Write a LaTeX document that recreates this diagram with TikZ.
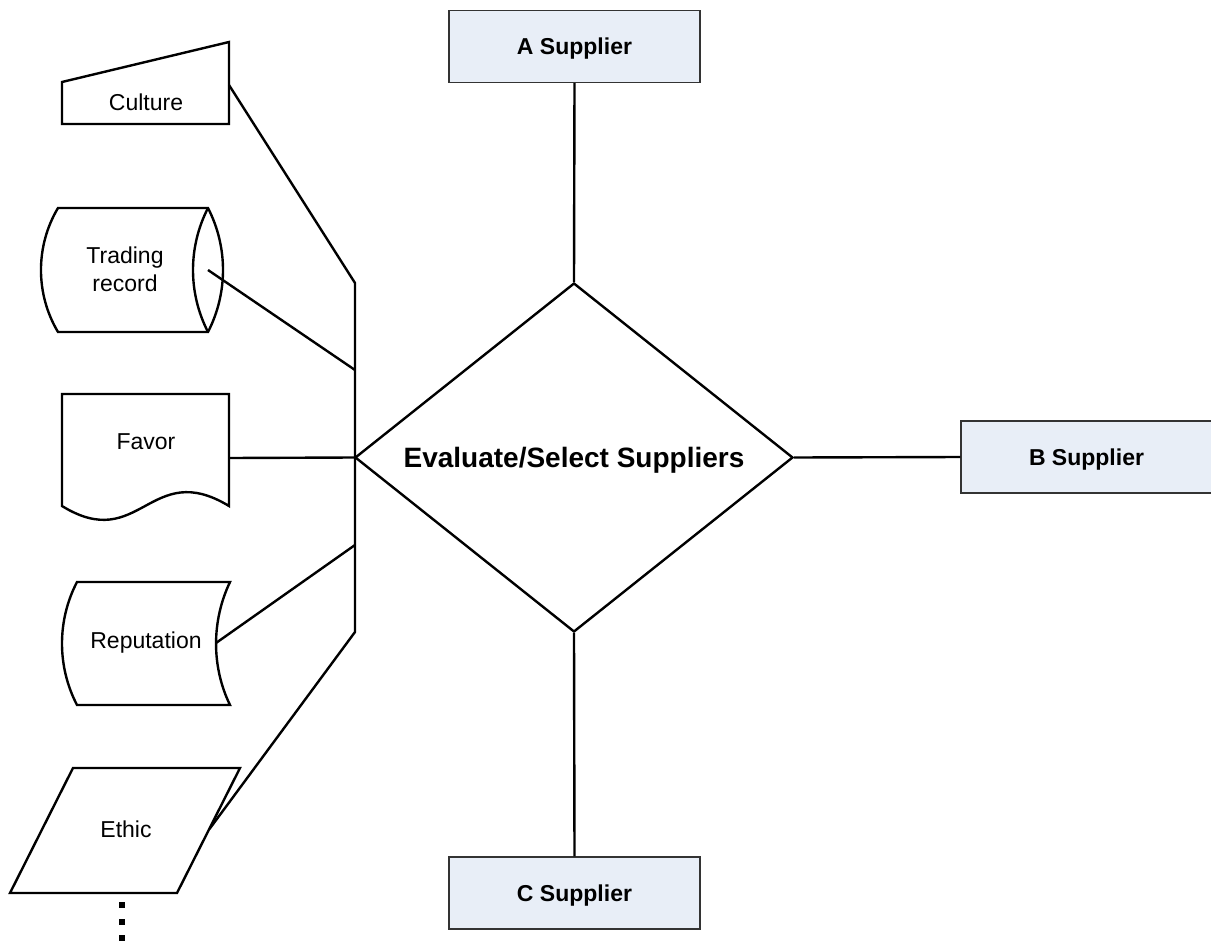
\documentclass[tikz,border=0pt]{standalone}
\usepackage{fontspec}
\setmainfont{Liberation Sans}
\usetikzlibrary{shapes.geometric}
\definecolor{supplierfill}{RGB}{232,238,247}
\begin{document}
\begin{tikzpicture}[x=1pt,y=-1pt,
  outline/.style={draw=black,line width=2.4pt,line join=miter},
  link/.style={draw=black,line width=2.4pt,line join=miter},
  label/.style={font=\fontsize{23}{28}\selectfont,align=center,inner sep=0pt},
  supplier/.style={draw=black!80,line width=1.3pt,fill=supplierfill,
    minimum width=251pt,minimum height=72pt,inner sep=0pt,text depth=0pt,
    font=\fontsize{23}{28}\selectfont\bfseries},
  dot/.style={fill=black,draw=none}
]
\useasboundingbox (0,0) rectangle (1211,945);

% central decision
\node[diamond,aspect=1.255,draw=black,line width=2.4pt,minimum width=438pt,minimum height=349pt,
  inner sep=0pt,text depth=0pt,font=\fontsize{28}{32}\selectfont\bfseries] (decide) at (574,457.5)
  {Evaluate/Select Suppliers};

% suppliers
\node[supplier] (supA) at (574.5,46.5) {A Supplier};
\node[supplier] (supB) at (1086.5,457) {B Supplier};
\node[supplier] (supC) at (574.5,893) {C Supplier};

\draw[link] (supA.south) -- (decide.north);
\draw[link] (decide.east) -- (supB.west);
\draw[link] (decide.south) -- (supC.north);

% Culture: manual input
\draw[outline] (62,82) -- (229,42) -- (229,124) -- (62,124) -- cycle;
\node[label] (culture) at (146,102) {Culture};
\coordinate (cultureOut) at (229,85);

% Trading record: stored data with lens
\draw[outline] (58,208) -- (208,208)
  .. controls (228,247) and (228,293) .. (208,332)
  -- (58,332)
  .. controls (35.3,294) and (35.3,246) .. cycle;
\draw[outline] (208,208) .. controls (188,247) and (188,293) .. (208,332);
\node[label] (trading) at (125,269) {Trading\\record};
\coordinate (tradeOut) at (208,270);

% Favor: document
\draw[outline] (62,394) -- (229,394) -- (229,506)
  .. controls (150,458) and (140,554) .. (62,506) -- cycle;
\node[label] (favor) at (146,442) {Favor};
\coordinate (favorOut) at (229,458);

% Reputation: stored data
\draw[outline] (77,582) -- (230,582)
  .. controls (211.4,621) and (211.4,666.7) .. (230,705)
  -- (77,705)
  .. controls (57,666.5) and (57,620.5) .. cycle;
\node[label] (reputation) at (146,643) {Reputation};
\coordinate (repOut) at (216,643);

% Ethic: data parallelogram
\draw[outline] (73,768) -- (240,768) -- (177,893) -- (10,893) -- cycle;
\node[label] (ethic) at (126,829) {Ethic};
\coordinate (ethicOut) at (209.5,829);

% collecting bus
\coordinate (busTop) at (355,283);
\coordinate (busTrade) at (355,370);
\coordinate (busRep) at (355,545);
\coordinate (busBot) at (355,632);
\draw[link] (cultureOut) -- (busTop) -- (busBot) -- (ethicOut);
\draw[link] (tradeOut) -- (busTrade);
\draw[link] (favorOut) -- (decide.west);
\draw[link] (repOut) -- (busRep);

% continuation dots
\fill[dot] (119,902) rectangle (125,908);
\fill[dot] (119,918.5) rectangle (125,924.5);
\fill[dot] (119,935) rectangle (125,941);
\end{tikzpicture}
\end{document}
